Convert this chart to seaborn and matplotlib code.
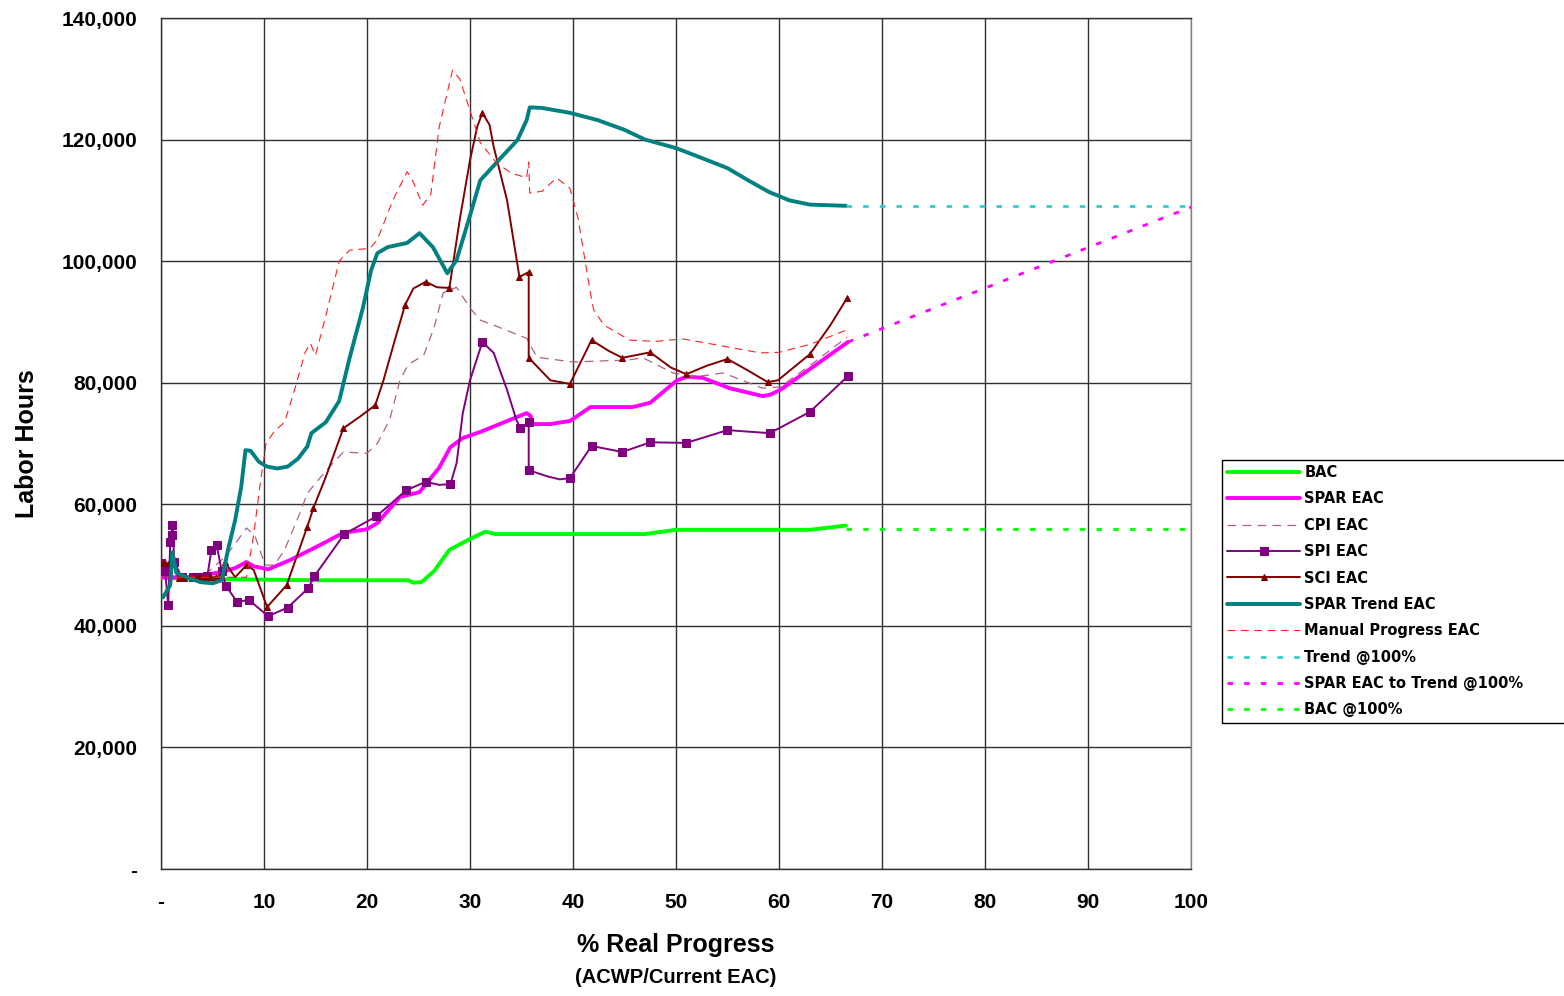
import numpy as np
import pandas as pd
import matplotlib
matplotlib.use("Agg")
import matplotlib.pyplot as plt
import seaborn as sns

# ---------------- data ----------------
bac_x = [0, 2, 5, 10, 15, 20, 24, 24.5, 25.3, 26.5, 28, 30, 31.5, 32.5, 40, 47, 50, 55, 60, 63, 66.5]
bac_y = [47900, 47800, 47700, 47600, 47500, 47500, 47500, 47100, 47200, 49000, 52500, 54300, 55500, 55100, 55100, 55100, 55800, 55800, 55800, 55800, 56500]

spar_x = [0, 3, 6, 7.2, 8.3, 9, 10.4, 12.5, 15.1, 17.7, 20, 21, 23.2, 25.1, 25.8, 27, 28.1, 29.3, 31,
          35.5, 35.9, 36, 37.8, 39.7, 41.7, 45.8, 47.5, 50.1, 51.1, 52.6, 55.2, 58.4, 59.1, 60.1, 63.3, 66.7]
spar_y = [48000, 48000, 48900, 49500, 50500, 49800, 49300, 50800, 53000, 55300, 55900, 56900, 61200, 62000, 63500, 66000,
          69400, 70900, 71900, 75000, 74500, 73200, 73200, 73700, 76000, 76000, 76700, 80400, 81000, 80800, 79100, 77800,
          78000, 78800, 82600, 86700]

cpi_x = [0, 4, 6.2, 7.2, 8.3, 9.1, 10.1, 11, 12, 13.5, 14.2, 16, 17.7, 20, 21, 22.2, 23.2, 24, 25.5, 26.5, 27.4,
         28.7, 30, 31, 33, 35.5, 36.5, 40, 43, 45.2, 46.8, 49.7, 52, 54.6, 58.4, 60.1, 63.3, 66.6]
cpi_y = [48000, 48000, 51300, 53500, 56100, 54900, 50000, 50000, 52500, 58600, 61800, 65500, 68600, 68400, 70000, 73900,
         80400, 83000, 84500, 89000, 94800, 95700, 92300, 90300, 89000, 87300, 84200, 83400, 83600, 83700, 84100, 81600,
         81000, 81600, 79100, 79300, 83200, 87500]

spi_x = [0, 0.4, 0.7, 0.9, 1.1, 1.1, 1.3, 2.0, 3.1, 3.9, 4.5, 4.9, 5.4, 5.9, 6.3, 7.4, 8.5, 10.4, 12.3, 14.3, 14.9,
         17.8, 20.9, 23.8, 25.7, 27.0, 28.1, 28.7, 29.3, 30.0, 31.2, 32.3, 33.6, 34.5, 34.9, 35.7, 35.7, 37.5, 38.7,
         39.7, 41.8, 44.8, 47.5, 51.0, 55.0, 59.1, 63.0, 66.7]
spi_y = [50300, 49000, 43400, 53800, 54900, 56600, 50500, 48000, 48000, 48000, 48200, 52500, 53300, 49000, 46600,
         43900, 44300, 41600, 43000, 46200, 48200, 55100, 58000, 62300, 63700, 63200, 63300, 66800, 75000, 80400, 86700,
         84900, 78800, 73900, 72500, 73500, 65600, 64600, 64100, 64300, 69600, 68600, 70200, 70100, 72200, 71700,
         75200, 81100]
spi_marks = [0, 1, 2, 3, 4, 5, 6, 7, 8, 9, 10, 11, 12, 13, 14, 15, 16, 17, 18, 19, 20, 21, 22, 23, 24, 26, 30,
             34, 35, 36, 39, 40, 41, 42, 43, 44, 45, 46, 47]

sci_x = [0, 0.4, 0.8, 1.2, 1.7, 2.2, 3.2, 3.8, 4.3, 4.8, 5.3, 5.8, 6.2, 7.2, 8.3, 9.0, 10.3, 12.2, 14.2, 14.8, 16,
         17.7, 19.3, 20.8, 21.6, 22.7, 23.7, 24.5, 25.7, 26.8, 28.0, 29.0, 30.0, 30.7, 31.2, 31.9, 32.3, 33.6, 34.8,
         35.7, 35.7, 37.8, 39.7, 41.8, 43.5, 44.8, 47.5, 49.5, 51.0, 53.0, 55.0, 57.0, 58.9, 59.9, 63.0, 65.0, 66.6]
sci_y = [50300, 50300, 50300, 50300, 47800, 47800, 48000, 48000, 48000, 48000, 48000, 48000, 50500, 48000, 50000,
         49200, 43100, 46700, 56300, 59400, 64500, 72500, 74400, 76300, 80400, 87000, 92800, 95500, 96600, 95700,
         95600, 106800, 116600, 122100, 124400, 122400, 118800, 110000, 97400, 98200, 84100, 80400, 79800, 87000,
         85200, 84100, 85000, 82500, 81400, 82800, 83900, 82000, 80100, 80400, 84700, 89500, 93900]
sci_marks = [0, 1, 2, 3, 4, 5, 6, 7, 8, 9, 10, 11, 12, 14, 16, 17, 18, 19, 21, 23, 26, 28, 30, 34, 38, 39, 40,
             42, 43, 45, 46, 48, 50, 52, 54, 56]

trend_x = [0.2, 0.9, 1.1, 1.5, 2.5, 3.8, 5.0, 5.9, 6.5, 7.2, 7.8, 8.2, 8.7, 9.5, 10.3, 11.3, 12.3, 13.3, 14.2, 14.6,
           16, 17.3, 18.3, 19.6, 20.4, 21, 22, 23.9, 25.1, 26.4, 27.8, 28.7, 30, 31, 33, 34.6, 35.5, 35.8, 37, 39.7,
           42.4, 45, 47, 50, 52, 55, 57, 59, 61, 63, 66.5]
trend_y = [44700, 46700, 52100, 48700, 48000, 47200, 47000, 47500, 52500, 57400, 63000, 68900, 68800, 67000, 66200,
           65900, 66200, 67500, 69500, 71700, 73500, 77000, 84000, 92300, 98500, 101300, 102300, 103000, 104600,
           102300, 98000, 100200, 107500, 113300, 117000, 119900, 123200, 125300, 125200, 124400, 123200, 121600,
           120000, 118600, 117300, 115300, 113300, 111400, 110000, 109300, 109100]

manual_x = [0, 4, 8.3, 9.0, 9.6, 10.2, 11, 12, 13, 14, 14.5, 15, 16, 17.3, 18.3, 20.3, 21, 22.5, 23.9, 24.5, 25.4,
            26.2, 27, 28.3, 29, 30.2, 31, 32.6, 34, 35.5, 35.7, 35.8, 37, 38.4, 39.7, 40.5, 41, 41.7, 42, 43, 45.5,
            48, 50.7, 54, 58.2, 60, 63, 66.6]
manual_y = [48000, 48000, 48000, 55000, 63000, 70000, 72000, 73500, 79000, 85000, 86500, 84500, 91000, 100000,
            101800, 102100, 103500, 110000, 114700, 113000, 109200, 111000, 122000, 131400, 130000, 123700, 119500,
            116100, 114500, 113700, 116300, 111200, 111500, 113700, 112000, 107000, 101800, 94700, 92000, 89500,
            87000, 86800, 87200, 86200, 84900, 85000, 86300, 88700]

trend100_x = [66.5, 100]
trend100_y = [109100, 109100]
spar2trend_x = [66.7, 100]
spar2trend_y = [86700, 108900]
bac100_x = [66.5, 100]
bac100_y = [55900, 55900]

x_ticks = [0, 10, 20, 30, 40, 50, 60, 70, 80, 90, 100]
x_tick_labels = ["-", "10", "20", "30", "40", "50", "60", "70", "80", "90", "100"]
y_ticks = [0, 20000, 40000, 60000, 80000, 100000, 120000, 140000]
y_tick_labels = ["-", "20,000", "40,000", "60,000", "80,000", "100,000", "120,000", "140,000"]

# ---------------- style ----------------
sns.set_theme(style="white")
plt.rcParams["font.family"] = ["Liberation Sans", "DejaVu Sans"]
plt.rcParams["font.weight"] = "bold"
plt.rcParams["text.color"] = "black"
plt.rcParams["axes.labelcolor"] = "black"

fig = plt.figure(figsize=(15.64, 9.96), dpi=100)
ax = fig.add_axes([161 / 1564, 1 - 869 / 996, (1191 - 161) / 1564, (869 - 18) / 996])

series = [
    dict(x=bac_x, y=bac_y, label="BAC", color="#00ff00", lw=2.8, ls="-"),
    dict(x=spar_x, y=spar_y, label="SPAR EAC", color="#ff00ff", lw=2.8, ls="-"),
    dict(x=cpi_x, y=cpi_y, label="CPI EAC", color="#b0608a", lw=0.9, ls=(0, (7, 5))),
    dict(x=spi_x, y=spi_y, label="SPI EAC", color="#800080", lw=1.4, ls="-", marker="s", ms=5.5, me=spi_marks),
    dict(x=sci_x, y=sci_y, label="SCI EAC", color="#800000", lw=1.4, ls="-", marker="^", ms=4, me=sci_marks),
    dict(x=trend_x, y=trend_y, label="SPAR Trend EAC", color="#008080", lw=2.8, ls="-"),
    dict(x=manual_x, y=manual_y, label="Manual Progress EAC", color="#ff2020", lw=0.8, ls=(0, (7, 5))),
    dict(x=trend100_x, y=trend100_y, label="Trend @100%", color="#33cccc", lw=2.0, ls=(0, (2, 4))),
    dict(x=spar2trend_x, y=spar2trend_y, label="SPAR EAC to Trend @100%", color="#ff00ff", lw=2.0, ls=(0, (2, 4))),
    dict(x=bac100_x, y=bac100_y, label="BAC @100%", color="#00ff00", lw=2.0, ls=(0, (2, 4))),
]

handles = []
for i, s in enumerate(series):
    df = pd.DataFrame({"x": s["x"], "y": s["y"]})
    kw = {}
    if "marker" in s:
        kw = dict(marker=s["marker"], markersize=s["ms"], markevery=s["me"],
                  markerfacecolor=s["color"], markeredgecolor=s["color"])
    sns.lineplot(data=df, x="x", y="y", ax=ax, sort=False, estimator=None,
                 color=s["color"], linewidth=s["lw"], linestyle=s["ls"], label=s["label"],
                 zorder=3 + i, legend=False, **kw)
    handles.append(ax.lines[-1])

ax.set_xlim(0, 100)
ax.set_ylim(0, 140000)
ax.set_xticks(x_ticks)
ax.set_xticklabels(x_tick_labels)
ax.set_yticks(y_ticks)
ax.set_yticklabels(y_tick_labels)
ax.grid(True, color="#303030", linewidth=1.0, zorder=0)
ax.set_axisbelow(True)
for sp in ax.spines.values():
    sp.set_color("#303030")
    sp.set_linewidth(1.0)
ax.spines["right"].set_color("#808080")
ax.tick_params(axis="both", direction="out", length=5, width=1.0, color="#303030",
               labelsize=15, labelcolor="black")
ax.tick_params(axis="y", pad=12)
ax.tick_params(axis="x", pad=12)
for t in ax.get_xticklabels() + ax.get_yticklabels():
    t.set_fontweight("bold")

ax.set_xlabel("")
ax.set_ylabel("Labor Hours", fontsize=18, fontweight="bold", labelpad=16, color="black")
fig.text(676 / 1564, 1 - 945 / 996, "% Real Progress", ha="center", va="center",
         fontsize=18, fontweight="bold", color="black")
fig.text(676 / 1564, 1 - 977 / 996, "(ACWP/Current EAC)", ha="center", va="center",
         fontsize=14.5, fontweight="bold", color="black")

leg = ax.legend(handles=handles, labels=[s["label"] for s in series],
                loc="upper left", bbox_to_anchor=(1222 / 1564, 1 - 460 / 996, 0.25, 0.0),
                bbox_transform=fig.transFigure, mode="expand", frameon=True, fancybox=False,
                edgecolor="black", framealpha=1.0, handlelength=5.0, handletextpad=0.3,
                labelspacing=0.78, borderpad=0.35, borderaxespad=0.0, numpoints=1,
                prop={"family": ["DejaVu Sans"], "weight": "bold", "size": 10.5})
leg.get_frame().set_linewidth(1.0)
for t in leg.get_texts():
    t.set_color("black")

fig.savefig("out.png", dpi=100)
